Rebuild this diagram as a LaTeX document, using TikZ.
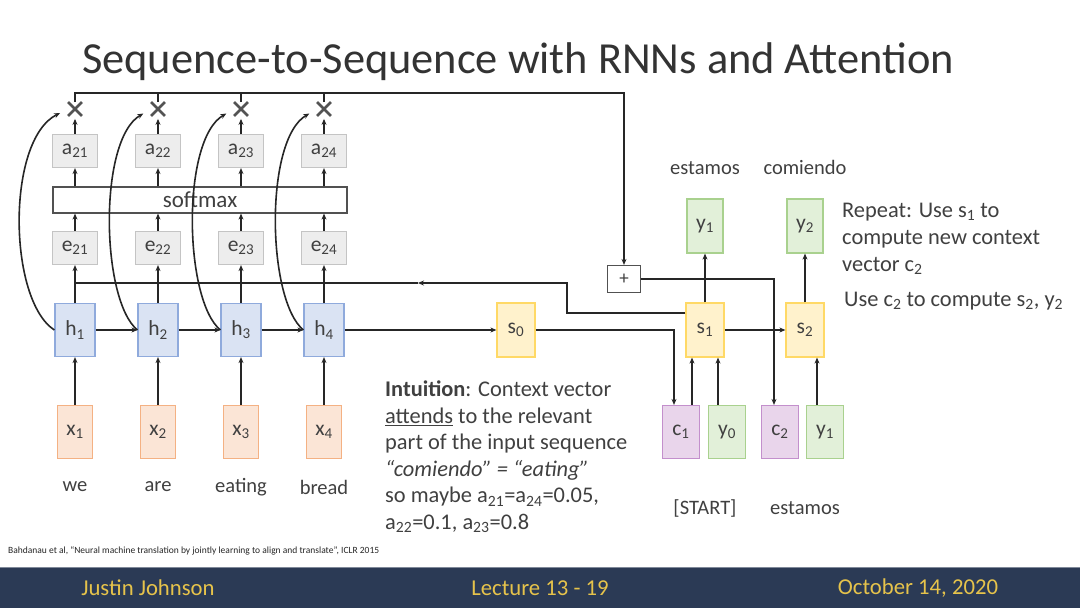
\documentclass[tikz,border=0pt]{standalone}
\usepackage{fontspec}
\setmainfont{Carlito}
\usetikzlibrary{arrows.meta,shapes.misc}
\definecolor{txt}{HTML}{404040}
\definecolor{lc}{HTML}{262626}
\definecolor{ttl}{HTML}{333333}
\definecolor{hfill}{HTML}{DAE3F3}\definecolor{hdraw}{HTML}{8FAADC}
\definecolor{xfill}{HTML}{FBE5D6}\definecolor{xdraw}{HTML}{F4B183}
\definecolor{sfill}{HTML}{FFF2CC}\definecolor{sdraw}{HTML}{FFD966}
\definecolor{yfill}{HTML}{E2F0D9}\definecolor{ydraw}{HTML}{A9D18E}
\definecolor{cfill}{HTML}{E9D5EB}\definecolor{cdraw}{HTML}{C38FCC}
\definecolor{gfill}{HTML}{EDEDED}\definecolor{gdraw}{HTML}{C4C4C4}
\definecolor{footbg}{HTML}{2B3A55}\definecolor{foottx}{HTML}{E6C34B}
\newcommand{\sbs}[1]{\textsubscript{#1}}
\begin{document}
\begin{tikzpicture}[x=1pt,y=-1pt,
  lab/.style={font=\fontsize{21.5}{23}\selectfont, text=txt},
  box/.style={lab, draw, line width=1.2pt, inner sep=0pt},
  hbox/.style={box, fill=hfill, draw=hdraw, minimum width=40pt, minimum height=53pt},
  xbox/.style={box, fill=xfill, draw=xdraw, minimum width=35pt, minimum height=53pt},
  sbox/.style={box, fill=sfill, draw=sdraw, minimum width=38pt, minimum height=54pt},
  ybox/.style={box, fill=yfill, draw=ydraw, minimum width=37pt, minimum height=54pt},
  cbox/.style={box, fill=cfill, draw=cdraw, minimum width=37pt, minimum height=53pt},
  gbox/.style={box, fill=gfill, draw=gdraw, minimum width=45pt, minimum height=33pt},
  crossmark/.style={cross out, draw=txt!90, line width=2.8pt, minimum size=11pt, inner sep=0pt},
  conn/.style={draw=lc, line width=1.6pt},
  arr/.style={conn, -{Stealth[length=6pt,width=5pt]}},
  word/.style={font=\fontsize{20.5}{22}\selectfont, text=txt},
  para/.style={font=\fontsize{22.4}{26.5}\selectfont, text=txt, align=left, inner sep=0pt}
]
\useasboundingbox (0,0) rectangle (1080,608);
\fill[white] (0,0) rectangle (1080,608);

% title
\node[font=\fontsize{44.4}{48}\selectfont, text=ttl] (title) at (518,62) {Sequence-to-Sequence with RNNs and Attention};

% encoder columns
\foreach \i/\cx/\w in {1/75/we,2/158/are,3/241/eating,4/324/bread}{
  \node[hbox] (h\i) at (\cx,330) {h\sbs{\i}};
  \node[xbox] (x\i) at (\cx,432) {x\sbs{\i}};
  \node[word] (w\i) at (\cx,487) {\w};
  \node[gbox] (e\i) at (\cx,248) {e\sbs{2\i}};
  \node[gbox] (a\i) at (\cx,151) {a\sbs{2\i}};
  \node[crossmark] (m\i) at (\cx,109) {};
}
\node[box, draw=lc!80, fill=white, minimum width=294pt, minimum height=26pt, font=\fontsize{23}{25}\selectfont] (sm) at (200,200) {softmax};

% decoder
\node[sbox] (s0) at (516,330) {s\sbs{0}};
\node[sbox] (s1) at (705,330) {s\sbs{1}};
\node[sbox] (s2) at (805,330) {s\sbs{2}};
\node[ybox, minimum width=36pt] (yo1) at (705,226) {y\sbs{1}};
\node[ybox, minimum width=36pt] (yo2) at (805,226) {y\sbs{2}};
\node[word] (est1) at (705,168) {estamos};
\node[word] (com) at (805,167) {comiendo};
\node[cbox] (c1) at (681,432) {c\sbs{1}};
\node[ybox, minimum height=53pt] (y0) at (727,432) {y\sbs{0}};
\node[cbox] (c2) at (780,432) {c\sbs{2}};
\node[ybox, minimum height=53pt] (yi1) at (825,432) {y\sbs{1}};
\node[word] (start) at (705,508) {[START]};
\node[word] (est2) at (805,508) {estamos};
\node[box, draw=lc!80, fill=white, minimum width=33pt, minimum height=27pt, font=\fontsize{19}{20}\selectfont] (plus) at (624,279) {+};

% encoder connectors
\foreach \i in {1,...,4}{
  \draw[arr] (x\i.north) -- (h\i.south);
  \draw[arr] (h\i.north) -- (e\i.south);
  \draw[arr] (e\i.north) -- (e\i.north |- sm.south);
  \draw[arr] (a\i.south |- sm.north) -- (a\i.south);
  \draw[arr, shorten >=3pt] (a\i.north) -- (m\i.south);
}
\draw[arr] (h1.east) -- (h2.west);
\draw[arr] (h2.east) -- (h3.west);
\draw[arr] (h3.east) -- (h4.west);
\draw[arr] (h4.east) -- (s0.west);

% curved arrows from h to x-marks
\draw[arr, shorten >=9pt] (h1.west) .. controls (8,300) and (6,140) .. (m1.west);
\foreach \i/\cx in {2/158,3/241,4/324}{
  \draw[arr, shorten >=9pt] (h\i.west) .. controls (\cx-57,300) and (\cx-60,140) .. (m\i.west);
}

% top line to +
\coordinate (tr) at (624,93);
\draw[arr] (m1.north) |- (tr) -- (plus.north);
\foreach \i in {2,3,4}{ \draw[conn] (m\i.north) -- (m\i.north |- tr); }

% s1 back to the e's
\coordinate (j1) at (567,313);
\coordinate (j2) at (567,283);
\coordinate (jm) at (418,283);
\draw[arr] (s1.west |- j1) -- (j1) -- (j2) -- (jm);
\draw[conn] (jm) -- (h1.north |- j2);

% s0 to c1
\coordinate (k1) at (674,330);
\draw[arr] (s0.east) -- (k1) -- (k1 |- c1.north);
% + to c2
\coordinate (p1) at (774,279);
\draw[arr] (plus.east) -- (p1) -- (p1 |- c2.north);

\draw[arr] ([xshift=11pt]c1.north) -- ([xshift=11pt]c1.north |- s1.south);
\draw[arr] ([xshift=-9pt]y0.north) -- ([xshift=-9pt]y0.north |- s1.south);
\draw[arr] ([xshift=-8pt]yi1.north) -- ([xshift=-8pt]yi1.north |- s2.south);
\draw[arr] (s1.east) -- (s2.west);
\draw[arr] (s1.north) -- (yo1.south);
\draw[arr] (s2.north) -- (yo2.south);

% texts
\node[para, anchor=north west] (intu) at (385,381) {\textbf{Intuition}: Context vector\\
\underline{attends} to the relevant\\
part of the input sequence\\
\textit{“comiendo” = “eating”}\\
so maybe a\sbs{21}=a\sbs{24}=0.05,\\
a\sbs{22}=0.1, a\sbs{23}=0.8};

\node[para, anchor=north west, font=\fontsize{22.4}{27}\selectfont] (rep) at (842,203) {Repeat: Use s\sbs{1} to\\compute new context\\vector c\sbs{2}};
\node[para, anchor=north west, font=\fontsize{22.4}{27}\selectfont] (use) at (844,292) {Use c\sbs{2} to compute s\sbs{2}, y\sbs{2}};

\node[anchor=west, font=\fontsize{9.5}{11}\selectfont, text=lc, inner sep=0pt] (cite) at (8,551) {Bahdanau et al, “Neural machine translation by jointly learning to align and translate”, ICLR 2015};

% footer
\fill[footbg] (0,567) rectangle (1080,608);
\draw[footbg!60!white, line width=0.8pt] (0,567) -- (1080,567);
\node[font=\fontsize{22.7}{24}\selectfont, text=foottx] (f1) at (148,588) {Justin Johnson};
\node[font=\fontsize{22.7}{24}\selectfont, text=foottx] (f2) at (540,588) {Lecture 13 - 19};
\node[font=\fontsize{22.7}{24}\selectfont, text=foottx] (f3) at (918,588) {October 14, 2020};
\end{tikzpicture}
\end{document}
